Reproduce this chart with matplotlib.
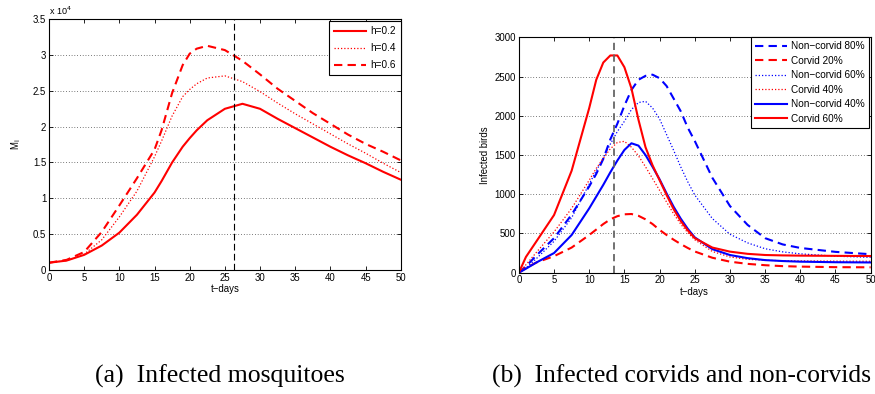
import numpy as np
import matplotlib
matplotlib.use('Agg')
import matplotlib.pyplot as plt
from matplotlib.ticker import FuncFormatter

plt.rcParams['font.family'] = ['Liberation Sans', 'DejaVu Sans']

# (a) infected mosquitoes, M_i for three values of h
t_mos = [0, 2.5, 5, 7.5, 10, 12.5, 15, 16, 17.5, 19, 20, 21, 22.5, 25, 27.5,
         30, 32.5, 35, 37.5, 40, 42.5, 45, 47.5, 50]
m_h02 = [1000, 1300, 2100, 3400, 5200, 7700, 10800, 12400, 15000, 17200, 18400,
         19500, 20900, 22500, 23200, 22500, 21100, 19800, 18500, 17200, 16000,
         14900, 13700, 12600]
m_h04 = [1000, 1300, 2200, 4200, 7400, 11000, 15800, 18000, 21500, 24200, 25200,
         26000, 26800, 27100, 26300, 24900, 23300, 21800, 20400, 19000, 17600,
         16300, 14900, 13600]
m_h06 = [1000, 1400, 2500, 5300, 9000, 12800, 16800, 19500, 24700, 28600, 30200,
         30900, 31300, 30700, 29200, 27300, 25300, 23600, 21900, 20400, 18900,
         17600, 16500, 15300]
t_mark_mos = 26.3

# (b) infected corvids and non-corvids
t_bird = [0, 1, 2.5, 5, 7.5, 10, 11, 12, 13, 14, 15, 16, 17, 18, 19, 20, 21, 22,
          23, 24, 25, 27.5, 30, 32.5, 35, 37.5, 40, 45, 50]
noncorvid80 = [0, 80, 220, 440, 740, 1100, 1260, 1450, 1700, 1900, 2130, 2330,
               2460, 2510, 2525, 2480, 2380, 2220, 2060, 1850, 1680, 1210, 850,
               610, 440, 360, 315, 265, 235]
corvid20 = [0, 60, 130, 210, 320, 480, 550, 620, 680, 720, 744, 748, 725, 680,
            620, 545, 480, 420, 365, 315, 270, 190, 140, 112, 95, 83, 77, 70, 68]
noncorvid60 = [0, 60, 180, 400, 700, 1130, 1300, 1460, 1640, 1800, 1930, 2080,
               2170, 2185, 2100, 1960, 1760, 1560, 1350, 1160, 990, 690, 490,
               380, 305, 265, 240, 210, 195]
corvid40 = [0, 100, 260, 520, 820, 1180, 1330, 1460, 1580, 1660, 1675, 1600,
            1490, 1350, 1200, 1050, 900, 750, 620, 510, 420, 270, 200, 170, 158,
            152, 150, 147, 145]
noncorvid40 = [0, 50, 130, 250, 480, 820, 970, 1120, 1280, 1430, 1565, 1650,
               1620, 1500, 1350, 1190, 1010, 840, 690, 560, 450, 300, 225, 185,
               160, 148, 140, 133, 130]
corvid60 = [0, 200, 400, 735, 1300, 2100, 2460, 2680, 2770, 2770, 2620, 2350,
            1950, 1600, 1370, 1180, 990, 810, 660, 540, 440, 320, 268, 240, 225,
            220, 217, 214, 212]
t_mark_bird = 13.5

dashed = (0, (4, 2.5))
dotted = (0, (1, 1.6))


def style_axes(ax):
    ax.tick_params(direction='in', length=3, width=0.6, labelsize=6.9,
                   top=True, right=True, pad=2)
    for s in ax.spines.values():
        s.set_linewidth(0.8)
    ax.yaxis.grid(True, linestyle=(0, (1, 3)), color='k', linewidth=0.5)
    ax.set_axisbelow(True)


fig = plt.figure(figsize=(8.75, 3.94), dpi=100)

ax1 = fig.add_axes([0.056, 0.315, 0.402, 0.636])
ax1.plot(t_mos, m_h02, color='red', lw=1.5, label='h=0.2')
ax1.plot(t_mos, m_h04, color='red', lw=0.9, linestyle=dotted, label='h=0.4')
ax1.plot(t_mos, m_h06, color='red', lw=1.5, linestyle=dashed, label='h=0.6')
ax1.axvline(t_mark_mos, color='k', lw=0.8, linestyle=(0, (6, 3)))
ax1.set_xlim(0, 50)
ax1.set_ylim(0, 35000)
ax1.set_xticks(np.arange(0, 51, 5))
ax1.set_yticks(np.arange(0, 35001, 5000))
ax1.yaxis.set_major_formatter(FuncFormatter(lambda v, p: '%g' % (v / 1e4)))
ax1.text(0.0, 1.01, 'x 10$^4$', transform=ax1.transAxes, fontsize=6.5,
         ha='left', va='bottom')
ax1.set_xlabel('t\u2212days', fontsize=6.9, labelpad=1)
ax1.set_ylabel('M$_\\mathrm{i}$', fontsize=6.9, labelpad=7)
style_axes(ax1)
leg1 = ax1.legend(loc='upper right', bbox_to_anchor=(1, 0.992), fontsize=7.2,
                  handlelength=3.2, labelspacing=0.7, borderaxespad=0,
                  fancybox=False, framealpha=1, edgecolor='k', borderpad=0.5,
                  handletextpad=0.4)
leg1.get_frame().set_linewidth(0.8)

ax2 = fig.add_axes([0.593, 0.308, 0.402, 0.597])
ax2.plot(t_bird, noncorvid80, color='blue', lw=1.5, linestyle=dashed,
         label='Non\u2212corvid 80%')
ax2.plot(t_bird, corvid20, color='red', lw=1.5, linestyle=dashed,
         label='Corvid 20%')
ax2.plot(t_bird, noncorvid60, color='blue', lw=0.9, linestyle=dotted,
         label='Non\u2212corvid 60%')
ax2.plot(t_bird, corvid40, color='red', lw=0.9, linestyle=dotted,
         label='Corvid 40%')
ax2.plot(t_bird, noncorvid40, color='blue', lw=1.5, label='Non\u2212corvid 40%')
ax2.plot(t_bird, corvid60, color='red', lw=1.5, label='Corvid 60%')
ax2.axvline(t_mark_bird, color='0.4', lw=1.3, linestyle=(0, (4, 2.5)))
ax2.set_xlim(0, 50)
ax2.set_ylim(0, 3000)
ax2.set_xticks(np.arange(0, 51, 5))
ax2.set_yticks(np.arange(0, 3001, 500))
ax2.set_xlabel('t\u2212days', fontsize=6.9, labelpad=1)
ax2.set_ylabel('Infected birds', fontsize=6.9, labelpad=3)
style_axes(ax2)
leg2 = ax2.legend(loc='upper right', bbox_to_anchor=(0.995, 1.0), fontsize=7.2,
                  handlelength=3.2, labelspacing=0.45, borderaxespad=0,
                  fancybox=False, framealpha=1, edgecolor='k', borderpad=0.4,
                  handletextpad=0.4)
leg2.get_frame().set_linewidth(0.8)

fig.text(95 / 875, 1 - 383 / 394, '(a)  Infected mosquitoes',
         family='Liberation Serif', fontsize=18.5, ha='left', va='baseline')
fig.text(492 / 875, 1 - 383 / 394, '(b)  Infected corvids and non-corvids',
         family='Liberation Serif', fontsize=18.4, ha='left', va='baseline')

fig.savefig('out.png', dpi=100)
